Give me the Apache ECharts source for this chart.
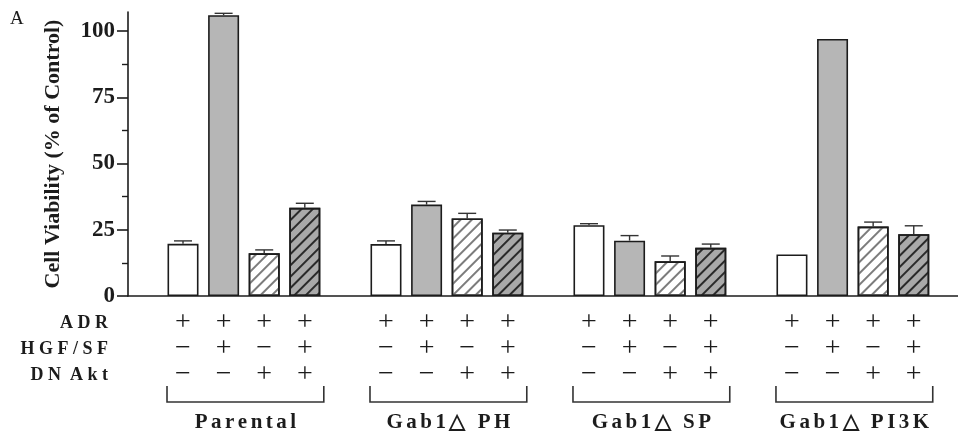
<!DOCTYPE html>
<html>
<head>
<meta charset="utf-8">
<script src="https://cdn.jsdelivr.net/npm/echarts@6/dist/echarts.min.js"></script>
<style>
  html, body { margin: 0; padding: 0; background: #fff; }
  #chart { width: 958px; height: 445px; }
</style>
</head>
<body>
<div id="chart"></div>
<script>
// data
const groupNames = ["Parental", "Gab1\u25B3 PH", "Gab1\u25B3 SP", "Gab1\u25B3 PI3K"];
const viability = [
  [19.7, 106.0, 16.1, 33.3],
  [19.6, 34.5, 29.3, 23.9],
  [26.7, 20.9, 13.1, 18.2],
  [15.7, 97.0, 26.2, 23.3],
];
const errorUp = [
  [1.1, 0.7, 1.3, 1.7],
  [1.2, 1.2, 1.9, 1.0],
  [0.6, 1.9, 2.0, 1.4],
  [0, 0, 1.7, 3.2],
];
const rowLabels = ["A D R", "H G F / S F", "D N  A k t"];
const adrSigns = ["+", "+", "+", "+"];
const hgfSigns = ["\u2212", "+", "\u2212", "+"];
const dnAktSigns = ["\u2212", "\u2212", "+", "+"];
const yMajorTicks = [0, 25, 50, 75, 100];
const yMinorTicks = [12.5, 37.5, 62.5, 87.5];

const serif = "Liberation Serif";
const ink = "#1c1c1c";
const slotsPerGroup = 5; // 4 bars + 1 empty slot between groups

// bar look per position inside a group
const hatch = { symbol: "rect", symbolSize: 1, dashArrayX: [1, 0], dashArrayY: [1.6, 5.4], rotation: -Math.PI / 4 };
const barLooks = [
  { color: "#ffffff" },
  { color: "#b6b6b6" },
  { color: "#ffffff", decal: { ...hatch, color: "#7c7c7c" } },
  { color: "#a9a9a9", decal: { ...hatch, color: "#2a2a2a" } },
];

function slotOf(g, b) {
  return g * slotsPerGroup + b;
}

const barData = [];
const errData = [];
viability.forEach((vals, g) => {
  vals.forEach((v, b) => {
    barData.push({
      value: [slotOf(g, b), v],
      itemStyle: { ...barLooks[b], borderColor: ink, borderWidth: 1.6 },
    });
    errData.push([slotOf(g, b), v, errorUp[g][b]]);
  });
});

const chart = echarts.init(document.getElementById("chart"), null, { renderer: "canvas" });

chart.setOption({
  animation: false,
  backgroundColor: "#fff",
  grid: { left: 128, right: 0, top: 12, bottom: 149 },
  xAxis: {
    type: "value",
    min: -1.355,
    max: 19.09,
    axisLine: { show: true, onZero: false, lineStyle: { color: ink, width: 1.6 } },
    axisTick: { show: false },
    axisLabel: { show: false },
    splitLine: { show: false },
  },
  yAxis: [
    {
      type: "value",
      min: 0,
      max: 107.2,
      interval: 25,
      name: "Cell Viability (% of Control)",
      nameLocation: "middle",
      nameGap: 64,
      nameTextStyle: { fontFamily: serif, fontWeight: "bold", fontSize: 22, color: ink },
      axisLine: { show: true, onZero: false, lineStyle: { color: ink, width: 1.6 } },
      axisTick: { show: true, length: 11, customValues: yMajorTicks, lineStyle: { color: ink, width: 1.6 } },
      axisLabel: {
        customValues: yMajorTicks,
        margin: 13,
        fontFamily: serif,
        fontWeight: "bold",
        fontSize: 23,
        color: ink,
      },
      splitLine: { show: false },
    },
    {
      type: "value",
      min: 0,
      max: 107.2,
      position: "left",
      axisLine: { show: false, onZero: false },
      axisTick: { show: true, length: 6, customValues: yMinorTicks, lineStyle: { color: ink, width: 1.4 } },
      axisLabel: { show: false },
      splitLine: { show: false },
    },
  ],
  series: [
    {
      type: "bar",
      barWidth: 31,
      data: barData,
      z: 2,
    },
    {
      type: "custom",
      z: 3,
      data: errData,
      renderItem(params, api) {
        const x = api.value(0);
        const y = api.value(1);
        const e = api.value(2);
        if (!e) return null;
        const base = api.coord([x, y]);
        const top = api.coord([x, y + e]);
        const lineStyle = { stroke: "#333", lineWidth: 1.4 };
        return {
          type: "group",
          children: [
            { type: "line", shape: { x1: base[0], y1: base[1], x2: top[0], y2: top[1] }, style: lineStyle },
            { type: "line", shape: { x1: top[0] - 9, y1: top[1], x2: top[0] + 9, y2: top[1] }, style: lineStyle },
          ],
        };
      },
    },
  ],
});

// table of treatments, brackets and group names under the axis
const signRows = [adrSigns, hgfSigns, dnAktSigns];
const rowY = [323, 349, 375];
const elements = [];

elements.push({
  type: "text",
  left: 10,
  top: 10,
  style: { text: "A", font: `19px "${serif}"`, fill: ink },
});

rowLabels.forEach((label, r) => {
  elements.push({
    type: "text",
    x: 108,
    y: rowY[r],
    style: { text: label, font: `bold 18px "${serif}"`, fill: ink, align: "right", verticalAlign: "middle" },
  });
});

groupNames.forEach((name, g) => {
  const xs = [0, 1, 2, 3].map((b) => chart.convertToPixel({ xAxisIndex: 0 }, slotOf(g, b)));
  signRows.forEach((signs, r) => {
    signs.forEach((s, b) => {
      elements.push({
        type: "text",
        x: xs[b],
        y: rowY[r],
        style: { text: s, font: `28px "${serif}"`, fill: ink, align: "center", verticalAlign: "middle" },
      });
    });
  });
  const left = xs[0] - 16;
  const right = xs[3] + 19;
  elements.push({
    type: "polyline",
    shape: { points: [[left, 386], [left, 402], [right, 402], [right, 386]] },
    style: { stroke: "#333", lineWidth: 1.6, fill: null },
  });
  elements.push({
    type: "text",
    x: (left + right) / 2,
    y: 423,
    style: {
      text: name.split("").join("\u2006"),
      font: `bold 21px "${serif}"`,
      fill: ink,
      align: "center",
      verticalAlign: "middle",
    },
  });
});

chart.setOption({ graphic: { elements } });
</script>
</body>
</html>
